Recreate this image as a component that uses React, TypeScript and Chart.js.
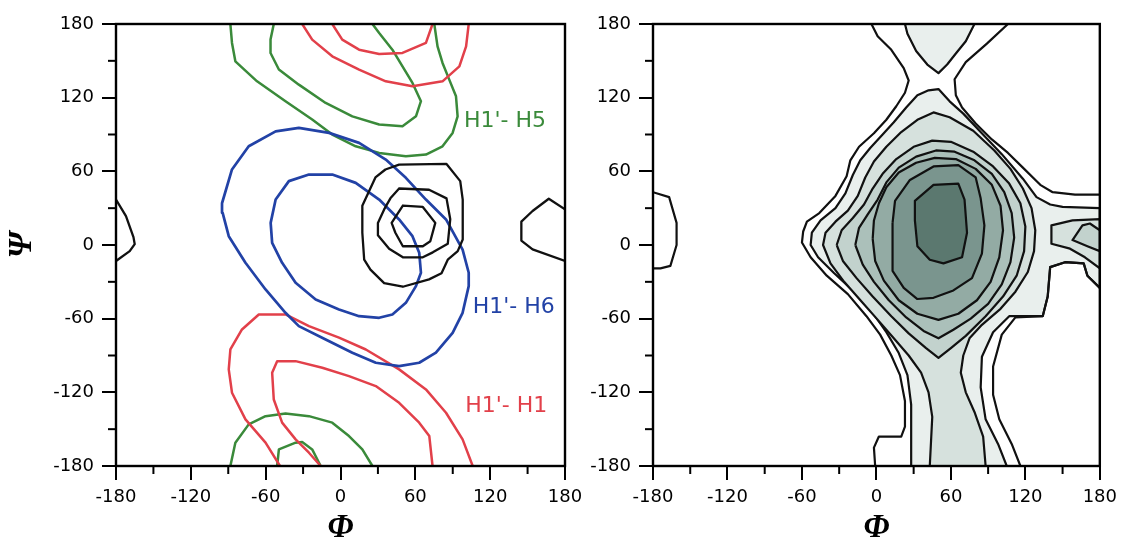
import React, { useEffect, useRef } from "react";
import { Chart, registerables } from "chart.js";

Chart.register(...registerables);

type Pt = [number, number];

// ---------- axes ----------
const AXIS_MIN = -180;
const AXIS_MAX = 180;
const MAJOR_STEP = 60;
const MINOR_TICKS = [-150, -90, -30, 30, 90, 150];
const X_TITLE = "Φ";
const Y_TITLE = "Ψ";

// ---------- left panel: NOE contour lines (phi, psi) ----------
const h1h6Outer: Pt[] = [[-95,34],[-87,61.5],[-73.6,80.4],[-52,92.6],[-33.4,95.4],[-9.2,91.3],[14.9,83.2],[36.3,69.6],[52.4,54.7],[68.5,37],[84.6,20.8],[97.9,-3.7],[102.8,-22.6],[102.8,-33.5],[97.9,-55.2],[89.9,-71.5],[76.5,-87.7],[63.1,-95.9],[47,-98.6],[28.3,-95.9],[9.5,-87.7],[-11.9,-76.9],[-33.4,-66.1],[-44.1,-55.2],[-60.1,-36.2],[-76.2,-14.5],[-89.6,7.2],[-94.5,26.2],[-95,34]];
const h1h6Inner: Pt[] = [[-56,18],[-52,37],[-41.4,52],[-25.3,57.4],[-6.6,57.4],[12.2,50.6],[31,37],[47,20.8],[57.7,7.2],[63.1,-6.3],[64.5,-22.6],[60.5,-33.5],[52.4,-47.1],[41.6,-56.6],[31,-59.3],[14.9,-58],[-1.2,-52.5],[-19.9,-44.4],[-36,-30.8],[-46.8,-14.5],[-54.8,1.8],[-56,18]];

const h1h1TopInner: Pt[] = [[-6.6,180],[1.4,167.3],[14.9,159.1],[31,155.6],[49.7,156.4],[68.5,164.6],[73.8,180]];
const h1h1TopOuter: Pt[] = [[-30.7,180],[-22.7,167.3],[-6.6,153.7],[14.9,142.9],[36.3,133.3],[57.7,129.3],[81.8,133.3],[95.3,145.5],[100.7,161.8],[102.8,180]];
const h1h1BottomOuter: Pt[] = [[106,-180],[97.9,-158.3],[84.6,-136.6],[68.5,-117.6],[47,-101.3],[20.3,-85.1],[-1.2,-75.5],[-25.3,-66.1],[-44.1,-56.6],[-65.5,-56.6],[-79,-68.8],[-88.3,-85.1],[-89.6,-101.3],[-87,-120.3],[-76.2,-142],[-60.1,-161],[-48.5,-180]];
const h1h1BottomInner: Pt[] = [[73.8,-180],[71.2,-155.6],[63.1,-144.7],[47,-128.5],[28.3,-114.9],[6.8,-106.8],[-14.6,-100],[-36,-94.6],[-50.8,-94.6],[-54.8,-104],[-53.5,-125.8],[-46.8,-144.7],[-36,-158.3],[-25.3,-169.2],[-15.9,-180]];

const h1h5TopOuter: Pt[] = [[-88.3,180],[-87,164.6],[-84.3,149.6],[-66.9,133.3],[-44.1,117.1],[-22.7,102.2],[-6.6,89.9],[12.2,80.4],[31,75],[52.4,72.3],[68.5,73.7],[81.8,80.4],[89.9,91.3],[93.9,104.8],[92.6,121.1],[87.2,134.7],[81.8,148.3],[77.8,161.8],[75.2,180]];
const h1h5TopInner: Pt[] = [[-53.5,180],[-56.1,167.3],[-56.1,156.4],[-49.4,142.9],[-33.4,130.6],[-11.9,115.7],[9.5,104.8],[31,98.1],[49.7,96.7],[60.5,104.8],[64.5,117.1],[57.7,132],[49.7,145.5],[41.6,159.1],[31,172.7],[25.6,180]];
const h1h5BottomOuter: Pt[] = [[-88.3,-180],[-84.3,-161],[-73.6,-146.1],[-60.1,-139.4],[-44.1,-137.2],[-25.3,-139.4],[-6.6,-144.7],[6.8,-155.6],[17.5,-166.5],[25.6,-180]];
const h1h5BottomInner: Pt[] = [[-50.8,-180],[-49.4,-166.5],[-36,-161],[-30.7,-160.5],[-22.7,-166.5],[-15.9,-180]];

const energyInner: Pt[] = [[50,32],[66,31],[76,18],[72,3],[66,-1],[50,-1],[44,10],[41,18],[50,32]];
const energyMiddle: Pt[] = [[47,46],[71,45],[85,38],[88,21],[86,1],[74,-6],[66,-10],[50,-10],[39,-3],[30,8],[30,18],[35,29],[40,38],[47,46]];
const energyOuter: Pt[] = [[47,65.5],[85,66],[96,52],[98,37],[98,4.5],[94,-5],[86,-12],[81,-23],[71,-28],[50,-34],[35,-31],[24,-20],[19,-12],[17.5,10],[17.5,32],[28,55],[36,61.5],[47,65.5]];
const energyLeftEdge: Pt[] = [[-180,37],[-172,23.5],[-166,6.4],[-165,0.7],[-169,-5],[-180,-13]];
const energyRightEdge: Pt[] = [[180,29],[167,37.7],[154,27.7],[145,19],[145,3.6],[154,-3.6],[180,-13]];

const LEFT_LABEL_TEXT = ["H1'- H5", "H1'- H6", "H1'- H1"];
const LEFT_LABEL_PHI = [99, 106, 100];
const LEFT_LABEL_PSI = [101, -51, -131];

// ---------- right panel: population map levels ----------
const level0Left: Pt[] = [[-4,180],[1,170],[12,159],[22,144],[26,134],[23,124],[16,113],[8,102],[-2,91],[-14,80],[-21,69],[-24,56],[-33,40],[-46,26],[-56,19],[-59,11],[-60,2],[-53,-10],[-40,-25],[-23,-40],[-8,-58],[3,-73],[12,-90],[19,-106],[23,-127],[23,-148],[20,-156],[2,-156],[-2,-165],[-1,-180]];
const level0UpperRight: Pt[] = [[106,180],[89,164],[72,149],[63,135],[64,122],[69,112],[80,99],[93,86],[106,75],[118,63],[132,49],[142,43],[160,41],[180,41]];
const level0LowerRight: Pt[] = [[180,-35],[170,-25],[167,-15],[152,-14],[140,-18],[138,-42],[134,-58],[112,-59],[101,-73],[94,-99],[94,-122],[99,-142],[109,-162],[116,-180]];
const level0Edge: Pt[] = [[-180,43],[-167,39],[-161,18],[-161,0],[-166,-17],[-174,-19],[-180,-19]];

const level1Cap: Pt[] = [[23,180],[25,172],[32,158],[41,147],[50,140],[57,147],[64,156],[72,166],[79,180],[23,180]];
const level1Main: Pt[] = [[28,-180],[28,-156],[28,-130],[25,-106],[18,-88],[8,-71],[-3,-55],[-18,-38],[-34,-23],[-47,-10],[-53,0],[-52,10],[-45,20],[-33,30],[-25,42],[-19,57],[-13,69],[-5,79],[5,90],[14,100],[24,112],[33,122],[42,126],[50,127],[59,117],[70,107],[84,92],[101,74],[118,54],[129,39],[140,33],[150,31],[180,30],[180,-35],[170,-25],[167,-15],[152,-14],[140,-18],[138,-42],[134,-58],[107,-58],[94,-71],[85,-91],[84,-116],[88,-142],[98,-162],[105,-180],[28,-180]];
const level2Main: Pt[] = [[43,-180],[44,-160],[45,-140],[42,-120],[36,-104],[26,-90],[14,-76],[2,-62],[-12,-46],[-26,-30],[-37,-15],[-43,0],[-41,10],[-33,19],[-23,28],[-15,40],[-9,55],[-2,68],[8,80],[20,92],[33,102],[46,108],[59,104],[78,93],[95,77],[108,62],[118,46],[125,30],[128,12],[127,-5],[122,-22],[112,-38],[100,-52],[85,-65],[75,-76],[70,-90],[68,-104],[72,-120],[79,-136],[86,-156],[88,-180],[43,-180]];
const level2Island: Pt[] = [[180,21],[158,20],[141,16],[141,1],[156,-3],[168,-10],[180,-19],[180,21]];
const level3Main: Pt[] = [[-32,0],[-28,12],[-19,22],[-10,33],[-3,46],[5,58],[16,70],[30,80],[45,85],[60,84],[78,76],[94,64],[107,50],[116,34],[120,15],[119,-5],[113,-25],[102,-42],[88,-58],[72,-74],[60,-84],[50,-92],[40,-84],[26,-72],[12,-58],[-3,-42],[-16,-27],[-27,-13],[-32,0]];
const level3Island: Pt[] = [[180,12],[172,17.5],[166,16],[158,4],[170,-1],[180,-5],[180,12]];
const level4: Pt[] = [[-17,0],[-14,14],[-7,25],[1,37],[8,51],[18,63],[32,72],[48,77],[63,76],[79,69],[93,58],[103,43],[109,26],[111,6],[108,-14],[101,-32],[90,-48],[76,-60],[62,-69],[50,-76],[38,-70],[24,-59],[10,-45],[-2,-30],[-11,-16],[-17,0]];
const level5: Pt[] = [[-3,5],[-2,20],[2,34],[8,47],[18,59],[32,67],[47,71],[64,70],[80,62],[93,49],[100,32],[102,12],[99,-10],[92,-30],[81,-45],[66,-56],[50,-61],[33,-56],[18,-45],[6,-29],[-1,-13],[-3,5]];
const level6: Pt[] = [[13,18],[15,36],[27,53],[46,64],[66,65],[80,55],[84,38],[87,16],[85,-7],[77,-27],[62,-37],[46,-43],[33,-44],[22,-35],[13,-21],[13,0],[13,18]];
const level7: Pt[] = [[31,20],[31,36],[46,49],[66,50],[71,37],[73,10],[69,-10],[54,-15],[43,-12],[33,-1],[31,20]];

// ---------- styles ----------
const GREEN = "#3a8a3a";
const RED = "#e2404a";
const BLUE = "#2242a6";
const BLACK = "#111111";
const LEVEL_FILLS = ["#e9efed", "#d6e1dd", "#c2d2cd", "#abc0ba", "#93aba4", "#7a958e", "#5b786f"];

const toXY = (pts: Pt[]) => pts.map(([x, y]) => ({ x, y }));

function lineDs(pts: Pt[], color: string, width: number, order: number) {
  return {
    data: toXY(pts),
    borderColor: color,
    borderWidth: width,
    fill: false,
    pointRadius: 0,
    pointHoverRadius: 0,
    tension: 0,
    order,
    borderJoinStyle: "round",
    borderCapStyle: "round",
  };
}

function areaDs(pts: Pt[], color: string, order: number) {
  return {
    data: toXY(pts),
    borderColor: BLACK,
    backgroundColor: color,
    borderWidth: 2.2,
    fill: "shape",
    pointRadius: 0,
    pointHoverRadius: 0,
    tension: 0,
    order,
    borderJoinStyle: "round",
  };
}

const tickFont = { family: "'DejaVu Sans', 'Liberation Sans', sans-serif", size: 18 };
const titleFont = { family: "'Liberation Serif', 'Times New Roman', serif", size: 33, style: "italic" as const, weight: "bold" as const };

const framePlugin = {
  id: "frameAndMinor",
  afterDraw(chart: any) {
    const { ctx, chartArea, scales } = chart;
    ctx.save();
    ctx.strokeStyle = "#000";
    ctx.lineWidth = 2;
    for (const v of MINOR_TICKS) {
      const x = scales.x.getPixelForValue(v);
      ctx.beginPath();
      ctx.moveTo(x, chartArea.bottom);
      ctx.lineTo(x, chartArea.bottom + 8);
      ctx.stroke();
      const y = scales.y.getPixelForValue(v);
      ctx.beginPath();
      ctx.moveTo(chartArea.left, y);
      ctx.lineTo(chartArea.left - 8, y);
      ctx.stroke();
    }
    ctx.lineWidth = 2.4;
    ctx.strokeRect(chartArea.left, chartArea.top, chartArea.right - chartArea.left, chartArea.bottom - chartArea.top);
    ctx.restore();
  },
};

function makeLabelPlugin(texts: string[], phis: number[], psis: number[], colors: string[]) {
  return {
    id: "contourLabels",
    afterDatasetsDraw(chart: any) {
      const { ctx, scales } = chart;
      ctx.save();
      ctx.font = "22px 'DejaVu Sans', 'Liberation Sans', sans-serif";
      ctx.textAlign = "left";
      ctx.textBaseline = "middle";
      texts.forEach((t, i) => {
        ctx.fillStyle = colors[i];
        ctx.fillText(t, scales.x.getPixelForValue(phis[i]), scales.y.getPixelForValue(psis[i]));
      });
      ctx.restore();
    },
  };
}

interface PanelProps {
  left: number;
  width: number;
  yAxisWidth: number;
  padRight: number;
  showYTitle: boolean;
  datasets: any[];
  extraPlugins: any[];
}

function Panel({ left, width, yAxisWidth, padRight, showYTitle, datasets, extraPlugins }: PanelProps) {
  const ref = useRef<HTMLCanvasElement>(null);
  useEffect(() => {
    if (!ref.current) return;
    const axisBase = {
      type: "linear" as const,
      min: AXIS_MIN,
      max: AXIS_MAX,
      ticks: {
        stepSize: MAJOR_STEP,
        font: tickFont,
        color: "#000",
        padding: 8,
        autoSkip: false,
        maxRotation: 0,
        callback: (v: any) => String(v),
      },
      grid: { drawOnChartArea: false, drawTicks: true, tickLength: 14, color: "#000", lineWidth: 2 },
      border: { display: true, color: "#000", width: 2 },
    };
    const chart = new Chart(ref.current, {
      type: "line",
      data: { datasets },
      options: {
        responsive: false,
        animation: false,
        events: [],
        layout: { padding: { top: 24, right: padRight, bottom: 0, left: 0 } },
        plugins: { legend: { display: false }, tooltip: { enabled: false } },
        scales: {
          x: {
            ...axisBase,
            ticks: { ...axisBase.ticks, padding: 7 },
            title: { display: true, text: X_TITLE, font: titleFont, color: "#000", padding: { top: 0, bottom: 0 } },
            afterFit: (s: any) => {
              s.height = 82;
            },
          },
          y: {
            ...axisBase,
            title: { display: showYTitle, text: Y_TITLE, font: titleFont, color: "#000", padding: { top: 3, bottom: 0 } },
            afterFit: (s: any) => {
              s.width = yAxisWidth;
            },
          },
        },
      } as any,
      plugins: [framePlugin, ...extraPlugins],
    } as any);
    return () => chart.destroy();
  }, []);
  return (
    <canvas
      ref={ref}
      width={width}
      height={548}
      style={{ position: "absolute", left, top: 0, width, height: 548 }}
    />
  );
}

export default function App() {
  const leftDatasets = [
    lineDs(h1h5TopOuter, GREEN, 2.5, 3),
    lineDs(h1h5TopInner, GREEN, 2.5, 3),
    lineDs(h1h5BottomOuter, GREEN, 2.5, 3),
    lineDs(h1h5BottomInner, GREEN, 2.5, 3),
    lineDs(h1h1TopOuter, RED, 2.5, 2),
    lineDs(h1h1TopInner, RED, 2.5, 2),
    lineDs(h1h1BottomOuter, RED, 2.5, 2),
    lineDs(h1h1BottomInner, RED, 2.5, 2),
    lineDs(h1h6Outer, BLUE, 2.7, 1),
    lineDs(h1h6Inner, BLUE, 2.7, 1),
    lineDs(energyOuter, BLACK, 2.3, 0),
    lineDs(energyMiddle, BLACK, 2.3, 0),
    lineDs(energyInner, BLACK, 2.3, 0),
    lineDs(energyLeftEdge, BLACK, 2.3, 0),
    lineDs(energyRightEdge, BLACK, 2.3, 0),
  ];

  const rightDatasets = [
    areaDs(level1Cap, LEVEL_FILLS[0], 7),
    areaDs(level1Main, LEVEL_FILLS[0], 7),
    areaDs(level2Main, LEVEL_FILLS[1], 6),
    areaDs(level2Island, LEVEL_FILLS[1], 6),
    areaDs(level3Main, LEVEL_FILLS[2], 5),
    areaDs(level3Island, LEVEL_FILLS[2], 5),
    areaDs(level4, LEVEL_FILLS[3], 4),
    areaDs(level5, LEVEL_FILLS[4], 3),
    areaDs(level6, LEVEL_FILLS[5], 2),
    areaDs(level7, LEVEL_FILLS[6], 1),
    lineDs(level0Left, BLACK, 2.2, 0),
    lineDs(level0UpperRight, BLACK, 2.2, 0),
    lineDs(level0LowerRight, BLACK, 2.2, 0),
    lineDs(level0Edge, BLACK, 2.2, 0),
  ];

  const labelPlugin = makeLabelPlugin(LEFT_LABEL_TEXT, LEFT_LABEL_PHI, LEFT_LABEL_PSI, [GREEN, BLUE, RED]);

  return (
    <div style={{ position: "absolute", left: 0, top: 0, width: 1124, height: 548, background: "#fff" }}>
      <Panel left={0} width={590} yAxisWidth={116} padRight={25} showYTitle={true} datasets={leftDatasets} extraPlugins={[labelPlugin]} />
      <Panel left={590} width={534} yAxisWidth={63} padRight={20} showYTitle={false} datasets={rightDatasets} extraPlugins={[]} />
    </div>
  );
}
